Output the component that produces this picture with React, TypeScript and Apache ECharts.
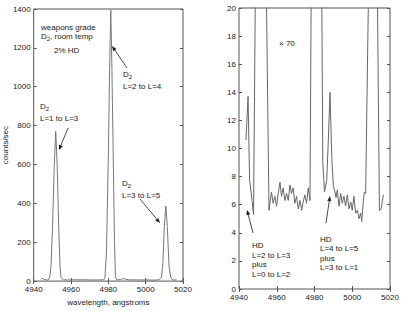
import React, { useEffect, useRef } from "react";
import * as echarts from "echarts";

// Spectrum: wavelength (angstroms) and counts/sec, shared by both panels
const wavelength = [
  4943.7, 4944.8, 4945.6, 4946.9, 4947.7, 4948.6, 4949.3, 4950.1, 4951.0, 4951.8,
  4952.6, 4953.4, 4954.1, 4954.6, 4955.9, 4957.2, 4958.1, 4959.0, 4959.9, 4960.8,
  4961.7, 4962.5, 4963.4, 4964.3, 4965.2, 4966.1, 4967.0, 4967.8, 4968.7, 4969.6,
  4970.5, 4971.4, 4972.3, 4973.2, 4974.0, 4974.9, 4975.8, 4976.7, 4977.6, 4978.2,
  4979.0, 4980.0, 4980.7, 4981.3, 4981.9, 4982.6, 4983.3, 4983.8, 4984.4, 4985.3,
  4986.5, 4987.3, 4988.2, 4989.2, 4990.0, 4990.9, 4991.4, 4992.1, 4993.0, 4993.9,
  4994.7, 4995.6, 4996.5, 4997.4, 4998.3, 4999.2, 5000.0, 5000.9, 5001.8, 5002.7,
  5003.6, 5004.5, 5005.0, 5005.9, 5006.4, 5007.1, 5008.5, 5009.2, 5010.0, 5010.8,
  5011.6, 5012.5, 5013.4, 5014.4, 5015.3, 5016.5,
];
const counts = [
  10.6, 13.7, 7.8, 6.3, 5.3, 20, 80, 280, 590, 770,
  590, 280, 80, 20, 5.6, 6.9, 6.1, 6.6, 5.9, 6.8,
  7.6, 6.6, 7.2, 6.3, 6.8, 6.3, 7.4, 6.8, 7.2, 6.1,
  6.6, 5.7, 6.3, 5.6, 6.2, 6.7, 6.1, 7.2, 6.3, 20,
  150, 650, 1100, 1395, 1100, 650, 200, 22, 9, 6.9,
  7.8, 10.5, 14.0, 9.2, 7.3, 6.9, 6.5, 7.05, 5.9, 6.8,
  6.1, 6.6, 5.9, 6.7, 5.7, 6.2, 5.6, 6.6, 5.4, 5.6,
  5.0, 5.4, 4.8, 6.3, 6.9, 6.8, 20, 90, 280, 386,
  280, 80, 20, 5.6, 5.7, 6.7,
];

const xMin = 4940;
const xMax = 5020;
const xStep = 20;
const leftYMax = 1400;
const leftYStep = 200;
const rightYMax = 20;
const rightYStep = 2;

const FONT = "Liberation Sans, Arial, sans-serif";
const TXT = "#1a1a1a";
const AXIS = "#555";

function arrow(x1: number, y1: number, x2: number, y2: number) {
  const dx = x2 - x1, dy = y2 - y1;
  const len = Math.hypot(dx, dy);
  const ux = dx / len, uy = dy / len;
  const hl = 5, hw = 2;
  const bx = x2 - ux * hl, by = y2 - uy * hl;
  return [
    { type: "line", shape: { x1, y1, x2: bx, y2: by }, style: { stroke: TXT, lineWidth: 0.8 } },
    {
      type: "polygon",
      shape: { points: [[x2, y2], [bx - uy * hw, by + ux * hw], [bx + uy * hw, by - ux * hw]] },
      style: { fill: TXT },
    },
  ];
}

function label(text: string, x: number, y: number) {
  return {
    type: "text",
    x,
    y,
    style: {
      text,
      fontSize: 8,
      fontFamily: FONT,
      fill: TXT,
      verticalAlign: "middle",
      align: "left",
    },
  };
}

const richStyles = {
  a: { fontSize: 8, lineHeight: 12, fontFamily: FONT, fill: TXT, color: TXT },
  s: { fontSize: 6, lineHeight: 6, verticalAlign: "bottom", fontFamily: FONT, fill: TXT, color: TXT },
};

function d2(x: number, y: number, rest = "") {
  return {
    type: "text",
    x,
    y: y - 6,
    style: {
      text: "{a|D}{s|2}" + (rest ? "{a|" + rest + "}" : ""),
      fontFamily: FONT,
      fill: TXT,
      verticalAlign: "top",
      align: "left",
      rich: richStyles,
    },
  };
}

export default function App() {
  const ref = useRef<HTMLDivElement>(null);
  useEffect(() => {
    if (!ref.current) return;
    const chart = echarts.init(ref.current, null, { renderer: "svg" });
    const data = wavelength.map((w, i) => [w, counts[i]]);
    const plain = (v: number) => String(v);
    const xBase = (gridIndex: number, pos: string, showLabel: boolean, name?: string) => ({
      type: "value",
      gridIndex,
      position: pos,
      min: xMin,
      max: xMax,
      interval: xStep,
      name,
      nameLocation: "middle",
      nameGap: 13,
      nameTextStyle: { fontSize: 8, fontFamily: FONT, color: TXT },
      axisLine: { show: false },
      axisTick: { show: true, inside: true, length: 3, lineStyle: { color: AXIS } },
      axisLabel: { show: showLabel, fontSize: 8, fontFamily: FONT, color: TXT, margin: 4, formatter: plain },
      splitLine: { show: false },
    });
    const yBase = (gridIndex: number, pos: string, showLabel: boolean, max: number, step: number, name?: string) => ({
      type: "value",
      gridIndex,
      position: pos,
      min: 0,
      max,
      interval: step,
      name,
      nameLocation: "middle",
      nameGap: 20,
      nameTextStyle: { fontSize: 8, fontFamily: FONT, color: TXT },
      axisLine: { show: false },
      axisTick: { show: true, inside: true, length: 3, lineStyle: { color: AXIS } },
      axisLabel: { show: showLabel, fontSize: 8, fontFamily: FONT, color: TXT, margin: 3, formatter: plain },
      splitLine: { show: false },
    });
    chart.setOption({
      animation: false,
      backgroundColor: "#fff",
      grid: [
        { left: 32, top: 9, width: 151, height: 279, show: true, borderColor: AXIS, borderWidth: 1, backgroundColor: "transparent" },
        { left: 239, top: 8, width: 151, height: 281, show: true, borderColor: AXIS, borderWidth: 1, backgroundColor: "transparent" },
      ],
      xAxis: [
        xBase(0, "bottom", true, "wavelength, angstroms"),
        xBase(0, "top", false),
        xBase(1, "bottom", true),
        xBase(1, "top", false),
      ],
      yAxis: [
        yBase(0, "left", true, leftYMax, leftYStep, "counts/sec"),
        yBase(0, "right", false, leftYMax, leftYStep),
        yBase(1, "left", true, rightYMax, rightYStep),
        yBase(1, "right", false, rightYMax, rightYStep),
      ],
      series: [
        {
          type: "line",
          xAxisIndex: 0,
          yAxisIndex: 0,
          data,
          showSymbol: false,
          symbol: "none",
          clip: true,
          lineStyle: { color: "#777", width: 1 },
        },
        {
          type: "line",
          xAxisIndex: 2,
          yAxisIndex: 2,
          data,
          showSymbol: false,
          symbol: "none",
          clip: true,
          lineStyle: { color: "#666", width: 1 },
        },
      ],
      graphic: [
        label("weapons grade", 41, 27),
        d2(41, 36, ", room temp"),
        label("2% HD", 54, 50),
        d2(40, 106),
        label("L=1 to L=3", 40, 118),
        ...arrow(68, 128, 59, 150),
        d2(123, 74),
        label("L=2 to L=4", 123, 86),
        ...arrow(127, 68, 112, 46),
        d2(122, 183),
        label("L=3 to L=5", 122, 195),
        ...arrow(140, 199, 160, 223),
        label("\u00d7 70", 279, 43),
        label("HD", 252, 245),
        label("L=2 to L=3", 252, 255),
        label("plus", 252, 264),
        label("L=0 to L=2", 252, 274),
        ...arrow(253, 233, 247, 210),
        label("HD", 320, 239),
        label("L=4 to L=5", 320, 248),
        label("plus", 320, 258),
        label("L=3 to L=1", 320, 267),
        ...arrow(326, 223, 330, 196),
      ],
    });
    return () => chart.dispose();
  }, []);
  return (
    <div
      ref={ref}
      style={{ position: "fixed", left: 0, top: 0, width: 402, height: 311, background: "#fff" }}
    />
  );
}
